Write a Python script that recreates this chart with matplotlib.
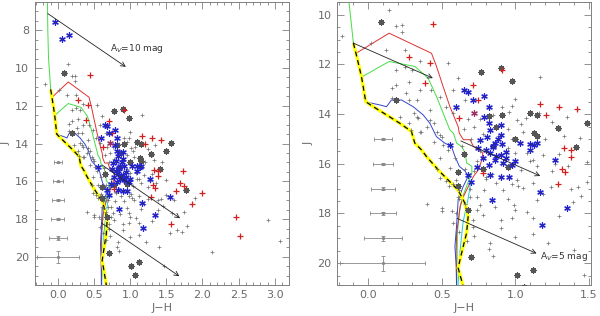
import numpy as np
import matplotlib
matplotlib.use("Agg")
import matplotlib.pyplot as plt
from matplotlib.ticker import MultipleLocator, FormatStrFormatter

# ── Data (J-H, J) ────────────────────────────────────────────────────────────

gray_jh = [0.14, 0.23, 0.19, 0.23, -0.18, 0.02, 0.12, 0.25, 0.35, 0.19, 0.30, 0.54,
           0.28, 0.19, 0.16, 0.35, 0.43, 0.26, 0.16, 0.28, 0.33, 0.49, 0.53, 0.42,
           0.31, 0.22, 0.34, 0.42, 0.45, 0.28, 0.40, 0.36, 0.47, 0.50, 0.58, 0.61,
           0.58, 0.66, 1.00, 0.91, 0.96, 0.85, 1.01, 1.07, 1.16, 1.17, 1.49, 0.29,
           0.35, 0.33, 0.49, 0.45, 0.51, 0.54, 0.49, 0.59, 0.56, 0.61, 0.60, 0.49,
           0.62, 0.61, 0.50, 0.60, 0.66, 0.69, 0.74, 0.71, 0.62, 1.08, 1.19, 1.12,
           1.04, 1.01, 0.87, 0.79, 0.92, 0.74, 0.86, 0.99, 1.08, 0.78, 0.90, 0.98,
           0.62, 0.57, 0.50, 0.76, 0.83, 0.82, 0.71, 1.43, 1.49, 1.39, 1.24, 1.12,
           1.05, 1.47, 2.90, 3.07, 2.13, 1.89, 1.78, 1.71, 1.55, 1.40, 1.49, 1.44,
           1.33, 0.98, 1.00, 1.12, 1.00, 1.22, 1.19, 0.72, 0.78, 0.95, 1.05, 0.70,
           0.98, 1.20, 0.76, 0.95, 1.00, 1.30, 0.74, 0.90, 1.15, 1.25, 0.80, 0.98,
           0.66, 1.30, 1.25, 1.35, 0.68, 0.65, 1.38, 0.95, 1.15, 0.90, 1.30, 1.60,
           1.65, 1.75, 0.55, 0.85, 0.67, 0.72, 0.88, 1.02, 0.64, 0.93, 1.10, 0.69,
           0.84, 1.04, 1.27, 0.47, 0.53, 0.40, 0.58, 0.80, 1.45, 1.36, 1.58, 0.25,
           0.72, 1.12, 0.58, 0.76]
gray_j = [9.80, 10.40, 10.44, 10.71, 10.85, 11.14, 11.41, 11.41, 11.88, 12.22, 12.22, 11.95,
          12.69, 12.82, 12.96, 13.02, 13.02, 13.16, 13.36, 13.43, 13.43, 13.29, 13.70, 13.83,
          13.97, 14.10, 14.17, 14.23, 14.37, 14.37, 14.50, 14.70, 14.70, 14.91, 13.95, 12.55,
          13.02, 13.42, 13.39, 13.70, 13.90, 14.03, 14.23, 14.17, 13.97, 12.50, 14.34, 14.64,
          14.70, 14.10, 14.84, 15.11, 15.24, 15.44, 15.78, 15.78, 16.18, 16.32, 16.65, 16.59,
          17.06, 17.33, 17.80, 18.00, 17.60, 17.33, 17.87, 18.27, 18.74, 15.58, 15.64, 15.85,
          16.25, 16.65, 16.79, 17.06, 17.06, 17.33, 17.73, 17.66, 17.93, 18.06, 18.27, 18.20,
          17.40, 17.89, 17.89, 17.66, 19.21, 19.45, 18.53, 16.92, 16.72, 17.52, 16.92, 16.79,
          16.99, 20.48, 18.05, 19.15, 19.73, 16.87, 18.37, 18.67, 18.72, 19.46, 15.93, 14.96,
          14.87, 13.68, 17.87, 18.84, 18.93, 19.20, 17.20, 14.50, 14.80, 14.60, 14.70, 15.00,
          15.00, 15.00, 15.50, 15.35, 15.55, 15.60, 15.90, 16.00, 16.10, 16.30, 16.55, 16.80,
          16.20, 14.60, 14.30, 14.10, 14.20, 14.60, 17.00, 17.40, 17.45, 18.60, 18.10, 17.00,
          18.60, 17.60, 16.90, 19.70, 19.10, 16.30, 14.90, 16.90, 15.30, 15.80, 15.90, 17.00,
          16.40, 14.40, 16.00, 16.20, 16.70, 17.60, 16.80, 16.60, 17.30, 16.10, 17.70, 12.10,
          18.90, 18.20, 18.40, 14.20]

dark_jh = [0.09, 0.77, 0.90, 0.98, 0.19, 0.82, 0.91, 1.10, 1.15, 1.29, 1.13, 1.15,
           1.41, 0.95, 0.61, 0.68, 0.70, 1.01, 1.12, 1.56, 1.49, 1.77, 1.06, 0.61,
           0.78, 0.65, 0.85, 0.87, 1.00]
dark_j = [10.27, 12.29, 12.15, 12.66, 13.43, 14.06, 14.03, 13.94, 14.03, 14.57, 14.77, 14.90,
          15.34, 16.12, 16.32, 17.86, 19.77, 20.48, 20.28, 13.99, 14.37, 16.46, 20.96, 16.90,
          16.20, 15.60, 15.30, 14.50, 15.00]

blue_jh = [0.65, 0.68, 0.71, 0.79, 0.82, 0.60, 0.82, 0.83, 0.81, 0.90, 0.90, 0.76,
           0.86, 0.91, 1.03, 1.10, 1.15, 0.85, 0.56, 0.83, 0.85, 0.94, 0.90, 0.82,
           0.78, 0.86, 0.94, 0.98, 1.13, 1.10, 1.27, 0.74, 0.83, 0.90, 0.96, 0.68,
           0.70, 0.84, 1.17, 1.35, 1.18, 1.55, -0.04, 0.06, 0.15, 0.88, 0.80, 0.92,
           1.00, 0.75, 0.87, 0.79]
blue_j = [13.02, 13.09, 13.43, 13.27, 13.70, 13.72, 14.37, 14.64, 14.91, 14.84, 14.43, 15.04,
          15.17, 15.20, 15.17, 15.20, 15.17, 15.30, 15.24, 15.58, 15.31, 15.51, 15.64, 16.05,
          15.78, 15.85, 15.78, 16.05, 15.24, 15.44, 15.85, 16.12, 16.45, 16.52, 16.52, 16.45,
          16.72, 17.46, 17.12, 17.79, 18.47, 16.81, 7.56, 8.48, 8.25, 15.00, 15.45, 15.95,
          15.90, 15.35, 15.70, 14.10]

red_jh = [0.44, 0.28, 0.42, 0.39, 0.91, 0.71, 0.75, 0.62, 1.17, 1.21, 1.30, 1.42,
          1.33, 1.38, 1.38, 1.29, 0.78, 1.73, 1.69, 1.74, 1.32, 1.34, 1.64, 2.00,
          1.85, 1.57, 2.47, 2.52]
red_j = [10.36, 11.68, 11.95, 12.76, 12.24, 12.82, 13.45, 14.16, 13.58, 14.04, 13.71, 13.80,
         15.38, 15.44, 15.71, 16.82, 16.39, 15.46, 16.08, 16.25, 16.20, 16.33, 16.50, 16.59,
         17.22, 18.23, 17.87, 18.90]

purple_jh = [0.72]
purple_j = [13.97]

# isochrones
zams_jh = [-0.10, -0.08, -0.045, -0.016, 0.035, 0.125, 0.216, 0.295, 0.306, 0.318, 0.363,
           0.397, 0.488, 0.567, 0.612, 0.658, 0.680, 0.669, 0.646, 0.624, 0.612, 0.640, 0.670]
zams_j = [11.14, 11.61, 12.49, 13.50, 13.70, 14.03, 14.37, 14.70, 14.95, 15.17, 15.44,
          15.71, 16.32, 16.79, 17.06, 17.59, 18.13, 18.80, 19.34, 19.88, 20.20, 20.80, 21.50]

red_iso_jh = [-0.10, -0.079, 0.143, 0.431, 0.465, 0.51, 0.556, 0.612, 0.62, 0.648, 0.693,
              0.716, 0.78, 0.773, 0.75, 0.716, 0.67, 0.648, 0.625, 0.614, 0.602, 0.598, 0.602]
red_iso_j = [11.14, 11.54, 10.74, 11.55, 12.08, 12.89, 13.70, 14.50, 14.77, 15.03, 15.03,
             15.30, 15.57, 15.84, 16.24, 16.51, 17.05, 17.32, 17.72, 18.26, 18.79, 19.60, 21.50]

green_iso_jh = [-0.145, -0.14, -0.13, -0.115, -0.10, -0.08, -0.045, 0.143, 0.318, 0.408,
                0.465, 0.51, 0.556, 0.58, 0.602, 0.636, 0.66, 0.67, 0.705, 0.705, 0.682,
                0.66, 0.636, 0.62, 0.607, 0.602]
green_iso_j = [6.40, 8.00, 9.50, 10.30, 11.14, 11.61, 12.51, 11.88, 12.08, 12.55, 13.29,
               13.96, 14.64, 14.77, 15.17, 15.30, 15.57, 15.97, 16.10, 16.38, 16.71, 17.05,
               17.45, 17.99, 18.79, 21.50]

blue_iso_jh = [-0.10, -0.08, -0.045, -0.022, 0.08, 0.125, 0.159, 0.227, 0.306, 0.374, 0.42,
               0.465, 0.522, 0.567, 0.59, 0.62, 0.66, 0.68, 0.646, 0.612, 0.601, 0.59,
               0.60, 0.602]
blue_iso_j = [11.14, 11.61, 12.49, 13.50, 13.63, 13.70, 13.43, 13.43, 13.70, 14.03, 14.37,
              14.91, 15.17, 15.31, 15.70, 16.10, 16.30, 16.50, 16.92, 17.46, 18.53, 19.34,
              20.15, 21.50]

cyan_iso_jh = [0.70, 0.68, 0.646, 0.625, 0.612, 0.605]
cyan_iso_j = [16.65, 17.40, 18.33, 19.50, 20.82, 21.50]

# reddening vector per magnitude of A_V
av_djh, av_dj = 0.108, 0.282

# error bars (J levels, sigma J-H, sigma J)
err_j = [15, 16, 17, 18, 19, 20]
err_jh = [0.06, 0.07, 0.08, 0.09, 0.13, 0.29]
err_jj = [0.03, 0.04, 0.05, 0.07, 0.10, 0.30]

panels = [
    dict(xlim=(-0.32, 3.2), ylim=(21.47, 6.5), xmaj=0.5, xmin=0.1,
         av=10, arrow_starts=[(-0.14, 7.12), (0.61, 15.13), (0.60, 18.2)],
         label_pos=(0.72, 8.97), err_x=0.0),
    dict(xlim=(-0.21, 1.515), ylim=(20.87, 9.48), xmaj=0.5, xmin=0.1,
         av=5, arrow_starts=[(-0.10, 11.14), (0.63, 15.08), (0.605, 18.2)],
         label_pos=(1.17, 19.73), err_x=0.1),
]

# ── Plot ─────────────────────────────────────────────────────────────────────

fig = plt.figure(figsize=(6.0, 3.16), dpi=100)
boxes = [[0.058, 0.099, 0.424, 0.895], [0.562, 0.099, 0.423, 0.895]]
tc = "#808080"
txt = "#6a6a6a"

for box, p in zip(boxes, panels):
    ax = fig.add_axes(box)

    # isochrones
    ax.plot(green_iso_jh, green_iso_j, color="#44dd44", lw=0.7, zorder=2)
    ax.plot(red_iso_jh, red_iso_j, color="#e03030", lw=0.7, zorder=2)
    ax.plot(cyan_iso_jh, cyan_iso_j, color="#22cccc", lw=0.7, zorder=2)
    ax.plot(blue_iso_jh, blue_iso_j, color="#3344cc", lw=0.7, zorder=2)
    ax.plot(zams_jh, zams_j, color="#ffff00", lw=2.4, zorder=3, solid_capstyle="butt")
    ax.plot(zams_jh, zams_j, color="black", lw=0.9, dashes=(4, 3), zorder=3)

    # stars
    ax.scatter(gray_jh, gray_j, marker="+", s=9, color="#707070", lw=0.5, zorder=4)
    ax.scatter(dark_jh, dark_j, marker=(8, 2, 0), s=12, color="#555555", lw=1.1, zorder=4)
    ax.scatter(red_jh, red_j, marker="+", s=20, color="#d02020", lw=0.9, zorder=5)
    ax.scatter(blue_jh, blue_j, marker=(6, 2, 0), s=16, color="#2222dd", lw=0.9, zorder=6)
    ax.scatter(blue_jh, blue_j, marker="o", s=2, color="#333366", lw=0, zorder=6)
    ax.scatter(purple_jh, purple_j, marker=(6, 2, 0), s=16, color="#993366", lw=0.9, zorder=6)

    # reddening vectors
    for sx, sy in p["arrow_starts"]:
        ex, ey = sx + av_djh * p["av"], sy + av_dj * p["av"]
        ax.annotate("", xy=(ex, ey), xytext=(sx, sy),
                    arrowprops=dict(arrowstyle="->", color="#222222", lw=0.6,
                                    shrinkA=0, shrinkB=0, mutation_scale=8),
                    zorder=7)
    ax.text(p["label_pos"][0], p["label_pos"][1], r"A$_V$=%d mag" % p["av"],
            fontsize=6.5, color="#333333", va="center", ha="left", zorder=8)

    # typical errors
    ax.errorbar([p["err_x"]] * len(err_j), err_j, xerr=err_jh, yerr=err_jj,
                fmt="o", ms=1.3, color="#888888", ecolor="#888888", elinewidth=0.6,
                capsize=1.5, capthick=0.6, zorder=4)

    ax.set_xlim(*p["xlim"])
    ax.set_ylim(*p["ylim"])
    ax.xaxis.set_major_locator(MultipleLocator(p["xmaj"]))
    ax.xaxis.set_minor_locator(MultipleLocator(p["xmin"]))
    ax.xaxis.set_major_formatter(FormatStrFormatter("%.1f"))
    ax.yaxis.set_major_locator(MultipleLocator(2))
    ax.yaxis.set_minor_locator(MultipleLocator(0.5))
    ax.tick_params(which="both", direction="in", top=True, right=True,
                   color=tc, labelcolor=txt, labelsize=8, width=0.6)
    ax.tick_params(which="major", length=5, pad=4)
    ax.tick_params(which="minor", length=2.5)
    for sp in ax.spines.values():
        sp.set_color(tc)
        sp.set_linewidth(0.7)
    ax.set_xlabel("J\u2212H", color=txt, fontsize=8)
    ax.xaxis.set_label_coords(0.5, -0.063)
    ax.set_ylabel("J", color=txt, fontsize=8)
    ax.yaxis.set_label_coords(-0.095, 0.5)

fig.savefig("out.png", dpi=100)
